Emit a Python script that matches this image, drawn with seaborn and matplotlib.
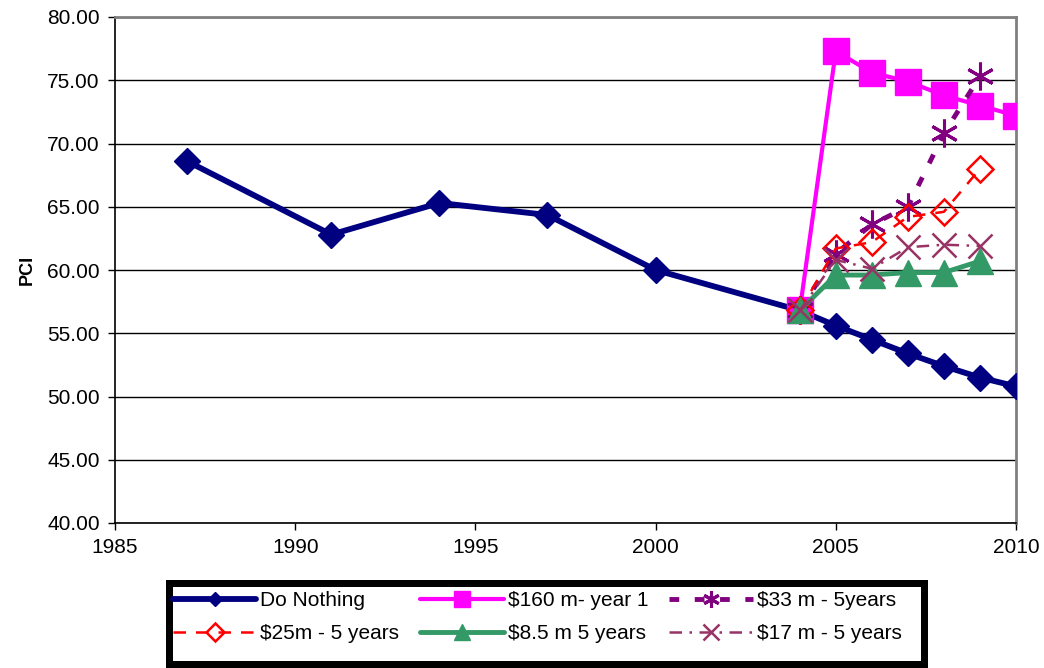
import matplotlib
matplotlib.use("Agg")
import matplotlib.pyplot as plt
from matplotlib.patches import Rectangle
import seaborn as sns
import pandas as pd

years_hist = [1987, 1991, 1994, 1997, 2000, 2004, 2005, 2006, 2007, 2008, 2009, 2010]
do_nothing = [68.6, 62.8, 65.3, 64.35, 60.0, 56.8, 55.6, 54.5, 53.4, 52.4, 51.5, 50.8]

years_160 = [2004, 2005, 2006, 2007, 2008, 2009, 2010]
m160 = [56.8, 77.3, 75.6, 74.9, 73.8, 73.0, 72.2]

years_5 = [2004, 2005, 2006, 2007, 2008, 2009]
m33 = [56.8, 61.3, 63.6, 65.0, 70.8, 75.3]
m25 = [56.8, 61.7, 62.2, 64.2, 64.6, 68.0]
m85 = [56.8, 59.6, 59.6, 59.8, 59.8, 60.7]
m17 = [56.8, 60.8, 60.1, 61.8, 62.0, 61.9]

sns.set_theme(style="white")
plt.rcParams['font.family'] = ['Liberation Sans', 'DejaVu Sans']

W, H = 1044, 668
fig = plt.figure(figsize=(W / 100, H / 100), dpi=100)
ax = fig.add_axes([115 / W, 1 - 523 / H, (1016 - 115) / W, (523 - 17) / H])

series = [
    ("Do Nothing", years_hist, do_nothing, dict(color="#000080", lw=4.2, marker="D", ms=13, mfc="#000080", mec="#000080", ls="-", lms=7)),
    ("$160 m- year 1", years_160, m160, dict(color="#FF00FF", lw=3, marker="s", ms=19, mfc="#FF00FF", mec="#FF00FF", ls="-", lms=11)),
    ("$33 m - 5years", years_5, m33, dict(color="#800080", lw=3.5, marker=(6, 2, 0), ms=20, mew=2.2, mfc="#800080", mec="#800080", ls=(0, (2, 3.2)), lms=12)),
    ("$25m - 5 years", years_5, m25, dict(color="#FF0000", lw=1.8, marker="D", ms=13, mew=1.8, mfc="none", mec="#FF0000", ls=(0, (5, 4)), lms=9)),
    ("$8.5 m 5 years", years_5, m85, dict(color="#339966", lw=3.5, marker="^", ms=19, mfc="#339966", mec="#339966", ls="-", lms=11)),
    ("$17 m - 5 years", years_5, m17, dict(color="#993366", lw=1.8, marker="x", ms=17, mew=1.8, mec="#993366", ls=(0, (5, 3, 1, 3)), lms=11)),
]

handles = {}
for name, xs, ys, st in series:
    df = pd.DataFrame({"year": xs, "PCI": ys})
    sns.lineplot(data=df, x="year", y="PCI", ax=ax, color=st["color"], linewidth=st["lw"],
                 linestyle=st["ls"], marker=st["marker"], markersize=st["ms"],
                 markerfacecolor=st.get("mfc", st["color"]), markeredgecolor=st["mec"],
                 markeredgewidth=st.get("mew", 1), label=name, legend=False, zorder=3)
    h, = ax.plot([], [], color=st["color"], lw=st["lw"], ls=st["ls"], marker=st["marker"],
                 ms=st["lms"], mfc=st.get("mfc", st["color"]), mec=st["mec"],
                 mew=st.get("mew", 1))
    handles[name] = h

ax.set_xlim(1985, 2010)
ax.set_ylim(40, 80)
ax.set_xticks(range(1985, 2011, 5))
ax.set_yticks(range(40, 81, 5))
ax.set_yticklabels([f"{v:.2f}" for v in range(40, 81, 5)])
ax.yaxis.grid(True, color="black", linewidth=1)
ax.xaxis.grid(False)
ax.set_axisbelow(True)
ax.set_xlabel("")
ax.set_ylabel("PCI", fontsize=13, fontweight="bold", color="black", labelpad=8)
ax.tick_params(axis="both", labelsize=15, labelcolor="black", direction="out", length=5,
               width=1, color="black", left=True, bottom=True)
ax.tick_params(axis="y", pad=6)
ax.tick_params(axis="x", pad=6)
for s in ["left", "bottom"]:
    ax.spines[s].set_color("black")
    ax.spines[s].set_linewidth(1.2)
for s in ["top", "right"]:
    ax.spines[s].set_color("#808080")
    ax.spines[s].set_linewidth(2)

# legend frame
lw_px = 7
fig.patches.append(Rectangle(((165 + lw_px / 2) / W, 1 - (667 - lw_px / 2) / H),
                             (927 - 165 - lw_px) / W, (667 - 579 - lw_px) / H,
                             transform=fig.transFigure, fill=True, facecolor="white",
                             edgecolor="black", linewidth=lw_px * 0.72, zorder=5))

order = ["Do Nothing", "$25m - 5 years", "$160 m- year 1", "$8.5 m 5 years", "$33 m - 5years", "$17 m - 5 years"]
leg = fig.legend([handles[n] for n in order], order, ncol=3, loc="upper left",
                 bbox_to_anchor=(173 / W, 1 - 591 / H), borderaxespad=0, borderpad=0,
                 fontsize=15, frameon=False, handlelength=4.0, columnspacing=1.0,
                 handletextpad=0.2, labelspacing=0.68, numpoints=1)
for t in leg.get_texts():
    t.set_color("black")
leg.set_zorder(6)

fig.savefig("out.png", dpi=100)
